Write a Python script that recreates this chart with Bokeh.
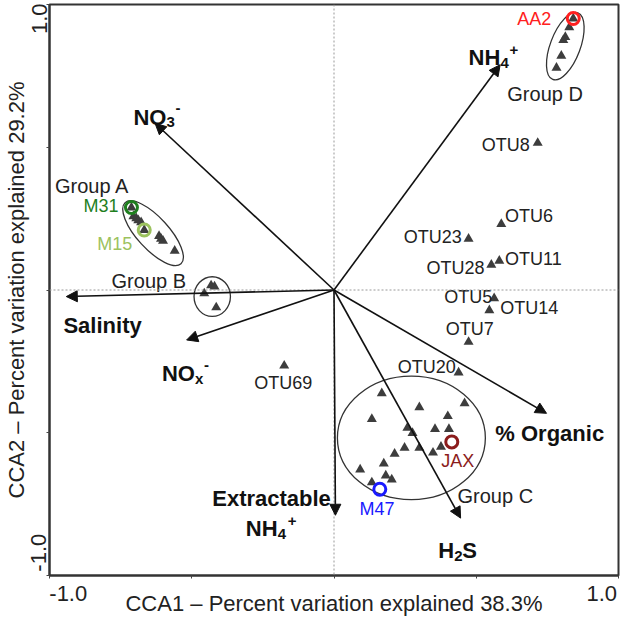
from bokeh.plotting import figure
from bokeh.models import ColumnDataSource, Arrow, NormalHead, Span, FixedTicker, Range1d
from bokeh.core.properties import value
from bokeh.embed import file_html
from bokeh.resources import INLINE

FONT = "Liberation Sans"
INK = "#222222"

# ---------------- data ----------------
# environmental vectors (biplot arrows)
env_names = ["NO3-", "NH4+", "Salinity", "NOx-", "Extractable NH4+", "H2S", "% Organic"]
env_x = [-0.629, 0.584, -0.941, -0.518, 0.005, 0.445, 0.747]
env_y = [0.584, 0.789, -0.023, -0.175, -0.789, -0.799, -0.432]

# sample scores by group
groupA_x = [-0.712, -0.705, -0.695, -0.688, -0.678, -0.667, -0.615, -0.608, -0.601, -0.560]
groupA_y = [0.289, 0.258, 0.251, 0.244, 0.237, 0.210, 0.189, 0.179, 0.172, 0.137]
groupB_x = [-0.432, -0.420, -0.456, -0.414]
groupB_y = [0.016, 0.012, -0.012, -0.061]
groupC_x = [0.168, 0.300, 0.459, 0.133, 0.400, 0.258, 0.276, 0.355, 0.404, 0.248,
            0.300, 0.213, 0.348, 0.376, 0.175, 0.092, 0.133, 0.182, 0.203]
groupC_y = [-0.362, -0.411, -0.397, -0.452, -0.442, -0.483, -0.501, -0.487, -0.487, -0.553,
            -0.553, -0.574, -0.570, -0.549, -0.608, -0.629, -0.674, -0.650, -0.664]
groupD_x = [0.841, 0.827, 0.813, 0.806, 0.799, 0.782]
groupD_y = [0.951, 0.920, 0.886, 0.875, 0.820, 0.778]

# OTU scores
otu_names = ["OTU8", "OTU6", "OTU23", "OTU11", "OTU28", "OTU5", "OTU14", "OTU7", "OTU20", "OTU69"]
otu_x = [0.716, 0.588, 0.473, 0.581, 0.553, 0.563, 0.546, 0.473, 0.438, -0.175]
otu_y = [0.515, 0.231, 0.179, 0.102, 0.088, -0.029, -0.071, -0.182, -0.289, -0.265]

# highlighted samples
hl_names = ["M31", "M15", "AA2", "JAX", "M47"]
hl_x = [-0.712, -0.667, 0.841, 0.414, 0.161]
hl_y = [0.289, 0.210, 0.951, -0.532, -0.698]
hl_colors = ["#1f7f1f", "#9cc25e", "#ff2020", "#8b1c1c", "#1a1aff"]

# group ellipses
grp_names = ["Group A", "Group B", "Group C", "Group D"]
grp_cx = [-0.636, -0.428, 0.272, 0.813]
grp_cy = [0.199, -0.023, -0.518, 0.854]
grp_w = [0.291, 0.128, 0.520, 0.250]
grp_h = [0.111, 0.139, 0.433, 0.105]
grp_angle = [-0.83, 0.0, 0.0, 1.21]

# axis tick labels
x_tick_labels = {-0.934: "-1.0", 0.941: "1.0"}
y_tick_labels = {0.950: "1.0", -0.920: "-1.0"}
axis_ticks = [-1.0, -0.5, 0.0, 0.5, 1.0]
x_title = "CCA1 \u2013 Percent variation explained 38.3%"
y_title = "CCA2 \u2013 Percent variation explained 29.2%"

# ---------------- label placement ----------------
otu_lab_x = [0.688, 0.601, 0.449, 0.601, 0.529, 0.556, 0.584, 0.477, 0.428, -0.178]
otu_lab_y = [0.508, 0.258, 0.185, 0.109, 0.078, -0.026, -0.064, -0.137, -0.269, -0.324]
otu_lab_align = ["right", "left", "right", "left", "right", "right", "left", "center", "right", "center"]

hl_lab_x = [-0.757, -0.709, 0.764, 0.435, 0.151]
hl_lab_y = [0.293, 0.161, 0.950, -0.598, -0.768]
hl_lab_align = ["right", "right", "right", "center", "center"]

grp_lab_x = [-0.850, -0.651, 0.567, 0.742]
grp_lab_y = [0.366, 0.030, -0.721, 0.688]

# environmental labels: anchor (left, baseline) + pieces (text, dx px, dy px, size)
env_lab_x = [-0.705, 0.473, -0.951, -0.605, -0.428, -0.310, 0.366, 0.567]
env_lab_y = [0.605, 0.813, -0.123, -0.293, -0.730, -0.837, -0.913, -0.501]
env_lab_pieces = [
    [("NO", 0, 0, 22), ("3", 33, 5, 15), ("-", 42, -9, 15)],
    [("NH", 0, 0, 22), ("4", 32, 5, 15), ("+", 41, -8, 15)],
    [("Salinity", 0, 0, 22)],
    [("NO", 0, 0, 22), ("x", 33, 5, 15), ("-", 42, -9, 15)],
    [("Extractable", 0, 0, 22)],
    [("NH", 0, 0, 22), ("4", 32, 5, 15), ("+", 42, -8, 15)],
    [("H", 0, 0, 22), ("2", 16, 5, 15), ("S", 24, 0, 22)],
    [("% Organic", 0, 0, 22)],
]

# ---------------- figure ----------------
p = figure(width=622, height=618, x_range=Range1d(-1, 1), y_range=Range1d(-1, 1),
           output_backend="svg", toolbar_location=None,
           min_border_left=48, min_border_right=4, min_border_top=4, min_border_bottom=42)
p.grid.visible = False
p.outline_line_color = "#333333"
p.outline_line_width = 2
p.background_fill_color = "white"
p.border_fill_color = "white"

for ax, labels in ((p.xaxis[0], x_tick_labels), (p.yaxis[0], y_tick_labels)):
    ax.ticker = FixedTicker(ticks=list(labels.keys()), minor_ticks=axis_ticks)
    ax.major_label_overrides = labels
    ax.major_tick_line_color = None
    ax.major_tick_out = 0
    ax.major_tick_in = 0
    ax.minor_tick_line_color = "#444444"
    ax.minor_tick_in = 0
    ax.minor_tick_out = 3
    ax.axis_line_color = "#333333"
    ax.axis_line_width = 2
    ax.major_label_text_font = FONT
    ax.major_label_text_font_size = "22px"
    ax.major_label_text_color = INK
    ax.axis_label_text_font = FONT
    ax.axis_label_text_font_size = "22px"
    ax.axis_label_text_font_style = "normal"
    ax.axis_label_text_color = INK

p.xaxis.axis_label = x_title
p.xaxis.major_label_standoff = 7
p.xaxis.axis_label_standoff = -13
p.yaxis.axis_label = y_title
p.yaxis.major_label_orientation = "vertical"
p.yaxis.major_label_standoff = 0
p.yaxis.axis_label_standoff = 0

# zero lines
p.add_layout(Span(location=0, dimension="width", line_color="#999999", line_dash="2 2", line_width=1))
p.add_layout(Span(location=0, dimension="height", line_color="#999999", line_dash="2 2", line_width=1))

# ellipses
p.ellipse(x=grp_cx, y=grp_cy, width=grp_w, height=grp_h, angle=grp_angle,
          fill_color=None, line_color="#333333", line_width=1.3)

# sample / OTU triangles
tri_x = groupA_x + groupB_x + groupC_x + groupD_x + otu_x
tri_y = groupA_y + groupB_y + groupC_y + groupD_y + otu_y
p.scatter(x=tri_x, y=tri_y, marker="triangle", size=10, fill_color="#3d3d3d", line_color=None)

# highlighted samples
p.scatter(x=hl_x, y=hl_y, marker="circle", size=12, fill_color=None,
          line_color=hl_colors, line_width=3)

# arrows
arrow_src = ColumnDataSource(dict(x0=[0.0] * len(env_x), y0=[0.0] * len(env_y), x1=env_x, y1=env_y))
p.add_layout(Arrow(source=arrow_src, x_start="x0", y_start="y0", x_end="x1", y_end="y1",
                   line_color="#111111", line_width=1.6,
                   end=NormalHead(size=11, fill_color="#111111", line_color="#111111")))

# OTU labels
p.text(x=otu_lab_x, y=otu_lab_y, text=otu_names, text_align=otu_lab_align, text_baseline="middle",
       text_font=value(FONT), text_font_size=value("18px"), text_color=INK)

# highlighted sample labels
p.text(x=hl_lab_x, y=hl_lab_y, text=hl_names, text_align=hl_lab_align, text_baseline="middle",
       text_font=value(FONT), text_font_size=value("18px"), text_color=hl_colors)

# group labels
p.text(x=grp_lab_x, y=grp_lab_y, text=grp_names, text_align="center", text_baseline="middle",
       text_font=value(FONT), text_font_size=value("20px"), text_color=INK)

# environmental labels (bold, with sub/superscripts)
ex, ey, et, exo, eyo, esz = [], [], [], [], [], []
for lx, ly, pieces in zip(env_lab_x, env_lab_y, env_lab_pieces):
    for t, dx, dy, sz in pieces:
        ex.append(lx); ey.append(ly); et.append(t)
        exo.append(dx); eyo.append(dy); esz.append(f"{sz}px")
env_src = ColumnDataSource(dict(x=ex, y=ey, text=et, xo=exo, yo=eyo, size=esz))
p.text(x="x", y="y", text="text", x_offset="xo", y_offset="yo", text_font_size="size",
       source=env_src, text_align="left", text_baseline="alphabetic",
       text_font=value(FONT), text_font_style="bold", text_color="#111111")

open("out.html", "w").write(file_html(p, INLINE))
